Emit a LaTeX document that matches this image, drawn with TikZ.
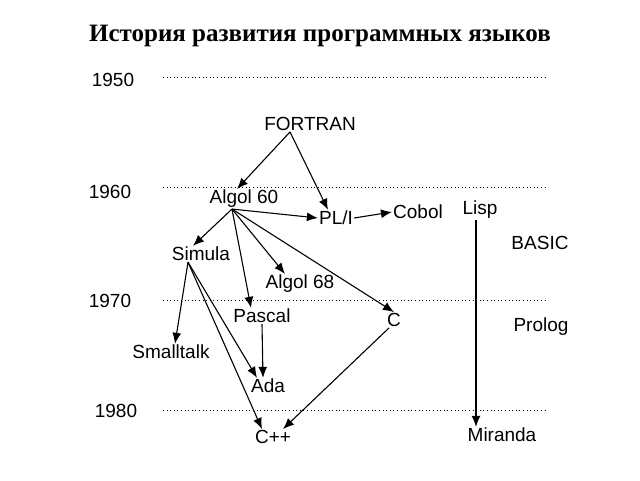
\documentclass[tikz,border=0pt]{standalone}
\usepackage{fontspec}
\setmainfont{Liberation Sans}
\newfontfamily\titlefont{Liberation Serif}
\usetikzlibrary{arrows.meta}

\begin{document}
\begin{tikzpicture}[x=1pt,y=-1pt,
  lang/.style={inner sep=1pt,font=\fontsize{19}{22}\selectfont},
  timeline/.style={line width=1pt,dash pattern=on 1pt off 2.6pt},
  link/.style={->,line width=1.1pt},
  >={Latex[length=11pt,width=9pt]}]
\useasboundingbox (0,0) rectangle (640,480);
\node (title) at (320,36) {\titlefont\bfseries\fontsize{25}{28}\selectfont История развития программных языков};
\node [lang] (y50) at (113,80) {1950};
\node [lang] (y60) at (110,192) {1960};
\node [lang] (y70) at (110,301) {1970};
\node [lang] (y80) at (116,411) {1980};
\draw [timeline] (163,77) -- (545,77);
\draw [timeline] (163,187) -- (545,187);
\draw [timeline] (163,300) -- (545,300);
\draw [timeline] (163,410) -- (545,410);
\node [lang] (fort) at (310,124) {FORTRAN};
\node [lang] (alg) at (244,199) {Algol 60};
\node [lang] (pli) at (336,218) {PL/I};
\node [lang] (cob) at (418,212) {Cobol};
\node [lang] (lisp) at (480,210) {Lisp};
\node [lang] (basic) at (540,243) {BASIC};
\node [lang] (sim) at (201,254) {Simula};
\node [lang] (alg68) at (300,284) {Algol 68};
\node [lang] (pas) at (262,316) {Pascal};
\node [lang] (c) at (394,320) {C};
\node [lang] (prolog) at (541,327) {Prolog};
\node [lang] (st) at (171,352) {Smalltalk};
\node [lang] (ada) at (268,386) {Ada};
\node [lang] (cpp) at (273,437) {C++};
\node [lang] (mir) at (502,435) {Miranda};
\draw [link] ([xshift=-20pt]fort.south) -- ([xshift=-7pt]alg.north);
\draw [link] ([xshift=-20pt]fort.south) -- ([xshift=-8pt]pli.north);
\draw [link] ([xshift=-12pt]alg.south) -- (pli.west);
\draw [link] (pli.east) -- (cob.west);
\draw [link] ([xshift=-12pt]alg.south) -- ([xshift=-8pt]sim.north);
\draw [link] ([xshift=-12pt]alg.south) -- ([xshift=-15pt]alg68.north);
\draw [link] ([xshift=-12pt]alg.south) -- ([xshift=-11pt]pas.north);
\draw [link] ([xshift=-12pt]alg.south) -- (c.north);
\draw [link] ([xshift=-13pt]sim.south) -- ([xshift=4pt]st.north);
\draw [link] ([xshift=-13pt]sim.south) -- ([xshift=-11pt]ada.north);
\draw [link] ([xshift=-13pt]sim.south) -- ([xshift=-11pt]cpp.north);
\draw [link] (pas.south) -- ([xshift=-5pt]ada.north);
\draw [link] ([xshift=-5pt]c.south) -- ([xshift=10pt]cpp.north);
\draw [link] ([xshift=-4pt]lisp.south) -- ([xshift=-26pt]mir.north);
\end{tikzpicture}
\end{document}
